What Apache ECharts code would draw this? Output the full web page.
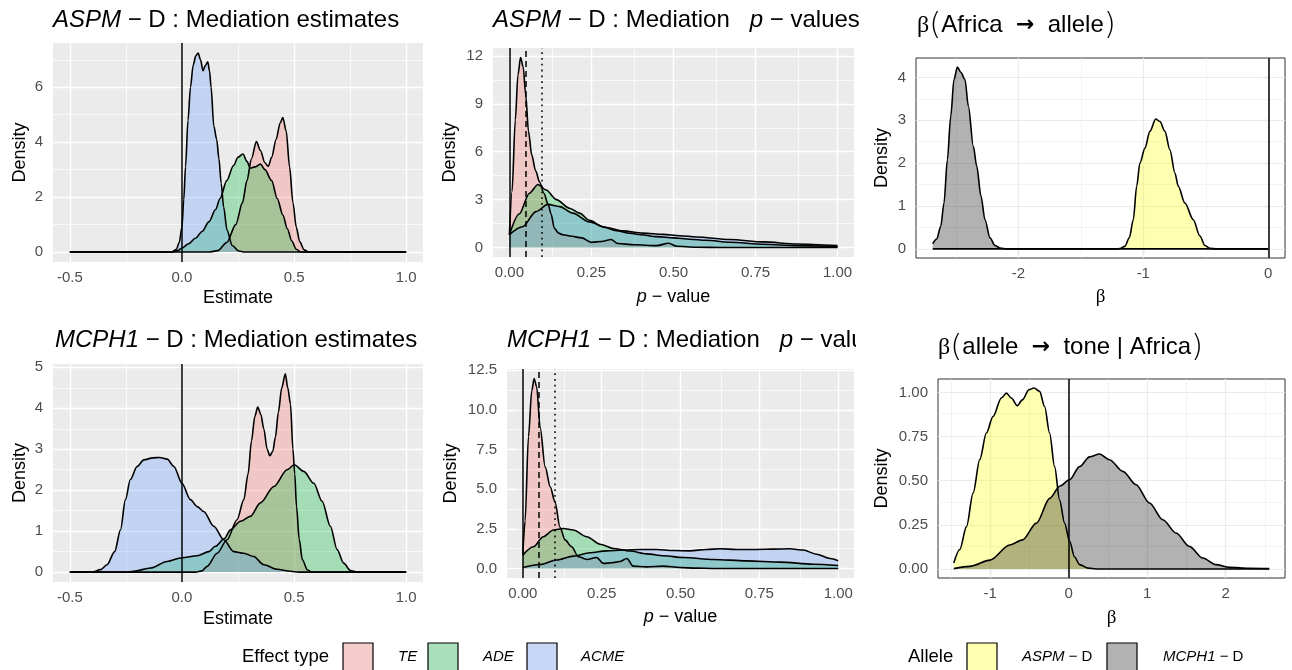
<!DOCTYPE html>
<html><head><meta charset="utf-8">
<script src="https://cdn.jsdelivr.net/npm/echarts@6/dist/echarts.min.js"></script>
<style>html,body{margin:0;padding:0;background:#fff}#c{width:1292px;height:670px}</style>
</head><body><div id="c"></div>
<script>
// ---------------- data ----------------
const effectTypes = ['TE', 'ADE', 'ACME'];
const effectColors = ['#F8766D', '#00BA38', '#619CFF'];
const alleleNames = ['ASPM', 'MCPH1'];
const alleleColors = ['#FFFF00', '#000000'];

const estXTicks = [-0.5, 0, 0.5, 1.0];
const estXMinor = [-0.25, 0.25, 0.75];
const pXTicks = [0, 0.25, 0.5, 0.75, 1.0];
const pXMinor = [0.125, 0.375, 0.625, 0.875];

const aspmEstYTicks = [0, 2, 4, 6];
const aspmEstYMinor = [1, 3, 5, 7];
const aspmPYTicks = [0, 3, 6, 9, 12];
const aspmPYMinor = [1.5, 4.5, 7.5, 10.5];
const africaXTicks = [-2, -1, 0];
const africaXMinor = [-2.5, -1.5, -0.5];
const africaYTicks = [0, 1, 2, 3, 4];
const africaYMinor = [0.5, 1.5, 2.5, 3.5];
const mcphEstYTicks = [0, 1, 2, 3, 4, 5];
const mcphEstYMinor = [0.5, 1.5, 2.5, 3.5, 4.5];
const mcphPYTicks = [0, 2.5, 5, 7.5, 10, 12.5];
const mcphPYMinor = [1.25, 3.75, 6.25, 8.75, 11.25];
const toneXTicks = [-1, 0, 1, 2];
const toneXMinor = [-1.5, -0.5, 0.5, 1.5, 2.5];
const toneYTicks = [0, 0.25, 0.5, 0.75, 1.0];
const toneYMinor = [0.125, 0.375, 0.625, 0.875];

// ASPM-D mediation estimates (density)
const aspmEstTE = [[-0.5,0],[0.12,0],[0.16,0.05],[0.2,0.35],[0.24,1.0],[0.27,1.8],[0.29,2.6],[0.31,3.4],[0.332,4.02],[0.35,3.7],[0.37,3.25],[0.385,3.12],[0.4,3.45],[0.42,4.1],[0.438,4.7],[0.45,4.9],[0.465,4.4],[0.48,3.1],[0.495,1.8],[0.51,0.9],[0.525,0.38],[0.545,0.08],[0.565,0],[1.0,0]];
const aspmEstADE = [[-0.5,0],[-0.05,0],[-0.02,0.05],[0.0,0.15],[0.03,0.3],[0.06,0.5],[0.09,0.75],[0.12,1.1],[0.15,1.55],[0.17,1.95],[0.2,2.6],[0.23,3.15],[0.25,3.45],[0.272,3.57],[0.29,3.3],[0.305,3.05],[0.325,3.1],[0.35,3.2],[0.37,3.0],[0.4,2.6],[0.425,1.95],[0.45,1.35],[0.47,0.85],[0.49,0.4],[0.51,0.1],[0.53,0],[1.0,0]];
const aspmEstACME = [[-0.5,0],[-0.045,0],[-0.025,0.1],[-0.012,0.35],[0,0.9],[0.008,1.9],[0.016,3.1],[0.027,4.8],[0.038,6.0],[0.05,6.8],[0.062,7.15],[0.072,7.25],[0.083,7.0],[0.094,6.6],[0.105,6.8],[0.115,6.93],[0.123,6.6],[0.13,6.0],[0.142,4.6],[0.155,4.1],[0.165,3.4],[0.175,2.5],[0.186,1.64],[0.201,0.8],[0.224,0.24],[0.253,0.04],[0.28,0],[1.0,0]];

// ASPM-D mediation p-values (density)
const aspmPTE = [[0,0.8],[0.008,3.5],[0.018,8.0],[0.026,10.8],[0.034,11.9],[0.042,11.3],[0.05,9.5],[0.058,7.3],[0.068,5.8],[0.08,4.8],[0.092,4.1],[0.105,3.4],[0.118,2.7],[0.127,2.1],[0.137,1.2],[0.15,0.9],[0.163,0.8],[0.19,0.7],[0.22,0.6],[0.25,0.32],[0.28,0.38],[0.31,0.5],[0.33,0.25],[0.38,0.17],[0.45,0.12],[0.485,0.27],[0.51,0.08],[0.57,0.02],[0.65,0],[1,0]];
const aspmPADE = [[0,0.8],[0.03,2.1],[0.061,3.4],[0.087,3.95],[0.112,3.6],[0.143,3.0],[0.183,2.46],[0.214,2.15],[0.244,1.7],[0.285,1.3],[0.326,1.05],[0.367,0.9],[0.4,0.8],[0.45,0.68],[0.5,0.6],[0.55,0.52],[0.6,0.45],[0.672,0.33],[0.774,0.2],[0.876,0.12],[1.0,0.06]];
const aspmPACME = [[0,0.8],[0.04,1.3],[0.081,2.25],[0.117,2.7],[0.153,2.56],[0.193,2.15],[0.244,1.6],[0.295,1.25],[0.346,1.04],[0.407,0.9],[0.468,0.82],[0.519,0.74],[0.57,0.66],[0.672,0.5],[0.774,0.35],[0.876,0.22],[1.0,0.12]];

// beta(Africa -> allele)
const africaASPM = [[-2.685,0],[-1.22,0],[-1.187,0.01],[-1.147,0.06],[-1.112,0.26],[-1.08,0.68],[-1.053,1.46],[-1.027,2.0],[-0.987,2.35],[-0.947,2.74],[-0.901,3.03],[-0.867,2.97],[-0.827,2.74],[-0.787,2.31],[-0.747,1.77],[-0.72,1.46],[-0.667,1.07],[-0.6,0.68],[-0.547,0.3],[-0.507,0.08],[-0.467,0.015],[-0.413,0],[0,0]];
const africaMCPH1 = [[-2.685,0.12],[-2.653,0.23],[-2.621,0.53],[-2.595,1.07],[-2.568,2.08],[-2.541,3.09],[-2.515,3.95],[-2.488,4.24],[-2.461,4.12],[-2.427,3.95],[-2.4,3.33],[-2.36,2.39],[-2.333,1.93],[-2.299,1.23],[-2.267,0.68],[-2.227,0.26],[-2.187,0.08],[-2.147,0.02],[-2.093,0],[0,0]];

// MCPH1-D mediation estimates (density)
const mcphEstTE = [[-0.5,0],[0.06,0],[0.09,0.03],[0.112,0.14],[0.157,0.46],[0.201,0.79],[0.246,1.28],[0.276,1.77],[0.295,2.4],[0.31,3.2],[0.325,3.8],[0.338,4.03],[0.352,3.85],[0.365,3.5],[0.38,3.0],[0.392,2.84],[0.405,2.95],[0.417,3.3],[0.43,3.9],[0.445,4.5],[0.461,4.84],[0.472,4.5],[0.484,4.1],[0.495,3.0],[0.503,2.4],[0.511,1.6],[0.523,0.8],[0.537,0.3],[0.56,0.05],[0.58,0],[1,0]];
const mcphEstADE = [[-0.5,0],[-0.25,0],[-0.215,0.02],[-0.14,0.1],[-0.066,0.26],[0,0.35],[0.068,0.4],[0.12,0.5],[0.149,0.63],[0.19,0.82],[0.216,1.03],[0.261,1.24],[0.305,1.36],[0.35,1.69],[0.41,2.09],[0.469,2.5],[0.501,2.62],[0.543,2.46],[0.588,2.17],[0.625,1.73],[0.662,1.12],[0.692,0.55],[0.721,0.22],[0.751,0.04],[0.781,0],[1,0]];
const mcphEstACME = [[-0.5,0],[-0.4,0],[-0.363,0.06],[-0.334,0.18],[-0.3,0.5],[-0.274,1.03],[-0.252,1.77],[-0.23,2.26],[-0.2,2.58],[-0.17,2.74],[-0.13,2.79],[-0.1,2.8],[-0.066,2.76],[-0.036,2.58],[0,2.17],[0.038,1.77],[0.068,1.6],[0.097,1.48],[0.142,1.12],[0.186,0.79],[0.231,0.5],[0.276,0.46],[0.32,0.38],[0.365,0.18],[0.424,0.07],[0.483,0.02],[0.52,0],[1,0]];

// MCPH1-D mediation p-values (density)
const mcphPTE = [[0,0.84],[0.0074,3.0],[0.018,8.3],[0.0285,11.2],[0.036,11.97],[0.044,11.45],[0.055,8.9],[0.071,6.4],[0.087,5.15],[0.102,4.2],[0.118,2.6],[0.134,1.8],[0.155,1.37],[0.176,0.74],[0.203,0.57],[0.234,0.69],[0.256,0.32],[0.282,0.36],[0.308,0.44],[0.33,0.63],[0.35,0.15],[0.393,0.1],[0.446,0.15],[0.498,0.06],[0.551,0.02],[0.6,0],[1,0]];
const mcphPADE = [[0,0.84],[0.034,1.37],[0.065,2.0],[0.097,2.42],[0.129,2.52],[0.16,2.42],[0.203,2.0],[0.245,1.53],[0.287,1.26],[0.34,1.1],[0.393,0.92],[0.446,0.8],[0.509,0.69],[0.604,0.57],[0.71,0.48],[0.815,0.4],[0.92,0.27],[1,0.19]];
const mcphPACME = [[0,0.06],[0.055,0.25],[0.108,0.53],[0.16,0.78],[0.213,0.99],[0.266,1.11],[0.319,1.16],[0.372,1.2],[0.424,1.2],[0.477,1.13],[0.53,1.11],[0.583,1.2],[0.625,1.24],[0.678,1.2],[0.741,1.2],[0.794,1.22],[0.847,1.24],[0.889,1.16],[0.931,0.9],[0.974,0.63],[1,0.48]];

// beta(allele -> tone | Africa)
const toneASPM = [[-1.462,0.034],[-1.386,0.11],[-1.3,0.24],[-1.216,0.43],[-1.131,0.62],[-1.047,0.77],[-0.962,0.864],[-0.856,0.968],[-0.792,0.996],[-0.729,0.968],[-0.653,0.925],[-0.589,0.958],[-0.504,1.015],[-0.441,1.025],[-0.369,1.006],[-0.305,0.92],[-0.242,0.77],[-0.178,0.58],[-0.114,0.39],[-0.051,0.26],[0.013,0.157],[0.076,0.068],[0.14,0.025],[0.25,0.005],[0.35,0],[2.555,0]];
const toneMCPH1 = [[-1.462,0.002],[-1.258,0.015],[-1.0,0.05],[-0.75,0.136],[-0.585,0.165],[-0.41,0.26],[-0.24,0.4],[-0.11,0.47],[0.013,0.505],[0.14,0.58],[0.267,0.635],[0.394,0.651],[0.521,0.619],[0.691,0.553],[0.86,0.477],[1.03,0.374],[1.2,0.279],[1.369,0.204],[1.538,0.128],[1.708,0.062],[1.877,0.025],[2.047,0.009],[2.3,0.004],[2.555,0.002]];

// ---------------- chart ----------------
const FONT = '"Liberation Sans", Arial, Helvetica, sans-serif';
const SERIF = '"Liberation Serif", "DejaVu Serif", serif';

const panels = [
  { grid:{left:53, top:43, width:370, height:219}, bw:false, x:[-0.575,1.075], y:[-0.3625,7.6125],
    xTicks:estXTicks, xMinor:estXMinor, yTicks:aspmEstYTicks, yMinor:aspmEstYMinor, xDec:1, yDec:0,
    xName:'Estimate', xNameGap:27, yNameGap:24, curves:[aspmEstTE,aspmEstADE,aspmEstACME], colors:effectColors,
    vlines:[{x:0,type:'solid'}] },
  { grid:{left:493, top:48, width:361, height:209}, bw:false, x:[-0.05,1.05], y:[-0.595,12.495],
    xTicks:pXTicks, xMinor:pXMinor, yTicks:aspmPYTicks, yMinor:aspmPYMinor, xDec:2, yDec:0,
    xName:'{i|p}{n| − value}', xNameGap:31, yNameGap:34, curves:[aspmPTE,aspmPADE,aspmPACME], colors:effectColors,
    vlines:[{x:0,type:'solid'},{x:0.05,type:[6,4]},{x:0.1,type:[1.8,4]}] },
  { grid:{left:916, top:58, width:369, height:200}, bw:true, x:[-2.819,0.134], y:[-0.212,4.452],
    xTicks:africaXTicks, xMinor:africaXMinor, yTicks:africaYTicks, yMinor:africaYMinor, xDec:0, yDec:0,
    xName:'{b|β}', xNameGap:30, yNameGap:25, curves:[africaASPM,africaMCPH1], colors:alleleColors,
    vlines:[{x:0,type:'solid'}] },
  { grid:{left:53, top:364, width:370, height:218}, bw:false, x:[-0.575,1.075], y:[-0.242,5.082],
    xTicks:estXTicks, xMinor:estXMinor, yTicks:mcphEstYTicks, yMinor:mcphEstYMinor, xDec:1, yDec:0,
    xName:'Estimate', xNameGap:28, yNameGap:24, curves:[mcphEstTE,mcphEstADE,mcphEstACME], colors:effectColors,
    vlines:[{x:0,type:'solid'}] },
  { grid:{left:507, top:369, width:347, height:209}, bw:false, x:[-0.05,1.05], y:[-0.6,12.57],
    xTicks:pXTicks, xMinor:pXMinor, yTicks:mcphPYTicks, yMinor:mcphPYMinor, xDec:2, yDec:1,
    xName:'{i|p}{n| − value}', xNameGap:30, yNameGap:47, curves:[mcphPTE,mcphPADE,mcphPACME], colors:effectColors,
    vlines:[{x:0,type:'solid'},{x:0.05,type:[6,4]},{x:0.1,type:[1.8,4]}] },
  { grid:{left:938, top:379, width:347, height:199}, bw:true, x:[-1.663,2.756], y:[-0.051,1.076],
    xTicks:toneXTicks, xMinor:toneXMinor, yTicks:toneYTicks, yMinor:toneYMinor, xDec:0, yDec:2,
    xName:'{b|β}', xNameGap:31, yNameGap:47, curves:[toneASPM,toneMCPH1], colors:alleleColors,
    vlines:[{x:0,type:'solid'}] }
];

const grids = [], xAxes = [], yAxes = [], series = [];
const nameRich = {
  i:{fontStyle:'italic', fontSize:18, color:'#000', fontFamily:FONT},
  n:{fontSize:18, color:'#000', fontFamily:FONT},
  b:{fontSize:19, color:'#000', fontFamily:SERIF}
};
panels.forEach((p, i) => {
  grids.push(Object.assign({
    show:true, containLabel:false, outerBoundsMode:'none',
    backgroundColor: p.bw ? '#ffffff' : '#ebebeb',
    borderColor: p.bw ? '#333333' : 'transparent', borderWidth: p.bw ? 1 : 0
  }, p.grid));
  const common = (ticks, dec) => ({
    axisLine:{show:false},
    axisTick:{show:true, customValues:ticks, length:5, lineStyle:{color:'#333', width:1.1}},
    axisLabel:{customValues:ticks, formatter:v => Number(v).toFixed(dec), color:'#4d4d4d', fontSize:15, fontFamily:FONT},
    splitLine:{show:false}, minorTick:{show:false}, minorSplitLine:{show:false}
  });
  const xa = Object.assign({type:'value', gridIndex:i, min:p.x[0], max:p.x[1],
    name:p.xName, nameLocation:'middle', nameGap:p.xNameGap, nameMoveOverlap:false,
    nameTextStyle:{fontSize:18, color:'#000', fontFamily:FONT, rich:nameRich}}, common(p.xTicks, p.xDec));
  xa.axisLabel.margin = 8;
  const ya = Object.assign({type:'value', gridIndex:i, min:p.y[0], max:p.y[1],
    name:'Density', nameLocation:'middle', nameGap:p.yNameGap, nameMoveOverlap:false,
    nameTextStyle:{fontSize:18, color:'#000', fontFamily:FONT}}, common(p.yTicks, p.yDec));
  ya.axisLabel.margin = 10;
  xAxes.push(xa); yAxes.push(ya);

  // grid lines (major + minor), drawn beneath the densities
  const majorC = p.bw ? '#ebebeb' : '#ffffff';
  const majW = p.bw ? 1.2 : 1.4, minW = p.bw ? 0.6 : 0.7;
  const gl = [];
  p.xMinor.forEach(v => gl.push({xAxis:v, lineStyle:{width:minW, color:majorC, type:'solid'}}));
  p.yMinor.forEach(v => gl.push({yAxis:v, lineStyle:{width:minW, color:majorC, type:'solid'}}));
  p.xTicks.forEach(v => gl.push({xAxis:v, lineStyle:{width:majW, color:majorC, type:'solid'}}));
  p.yTicks.forEach(v => gl.push({yAxis:v, lineStyle:{width:majW, color:majorC, type:'solid'}}));
  series.push({type:'line', xAxisIndex:i, yAxisIndex:i, data:[[p.x[0], p.y[0]]], symbol:'none', silent:true,
    lineStyle:{opacity:0}, z:1,
    markLine:{silent:true, symbol:['none','none'], label:{show:false}, z:1, animation:false,
      emphasis:{disabled:true}, data:gl}});

  p.curves.forEach((c, k) => {
    series.push({type:'line', xAxisIndex:i, yAxisIndex:i, data:c, smooth:0.3, smoothMonotone:'x',
      symbol:'none', silent:true, z:2,
      lineStyle:{color:'#000', width:1.6},
      areaStyle:{color:p.colors[k], opacity:0.3}});
  });

  series.push({type:'line', xAxisIndex:i, yAxisIndex:i, data:[[p.x[0], p.y[0]]], symbol:'none', silent:true,
    lineStyle:{opacity:0}, z:10,
    markLine:{silent:true, symbol:['none','none'], label:{show:false}, z:10, animation:false,
      emphasis:{disabled:true},
      data:p.vlines.map(v => ({xAxis:v.x, lineStyle:{color:'#000', width:1.5, type:v.type}}))}});
});

const titleRich = {
  i:{fontStyle:'italic', fontSize:24, color:'#000', fontFamily:FONT},
  n:{fontSize:24, color:'#000', fontFamily:FONT},
  b:{fontSize:24, color:'#000', fontFamily:SERIF},
  a:{fontSize:22, color:'#000', fontFamily:'"DejaVu Sans", sans-serif', fontWeight:'bold'},
  p:{fontSize:31, color:'#000', fontFamily:'"DejaVu Sans", sans-serif', fontWeight:'lighter'}
};
const mkTitle = (text, left, top) => ({text, left, top, padding:0, itemGap:0,
  textStyle:{rich:titleRich, fontSize:24, color:'#000', fontWeight:'normal', fontFamily:FONT}});
const titles = [
  mkTitle('{i|ASPM}{n| − D : Mediation estimates}', 53, 8),
  mkTitle('{i|ASPM}{n| − D : Mediation   }{i|p}{n| − values}', 493, 8),
  mkTitle('{b|β}{p|(}{n|Africa  }{a|→}{n|  allele}{p|)}', 917, 10),
  mkTitle('{i|MCPH1}{n| − D : Mediation estimates}', 55, 328),
  mkTitle('{i|MCPH1}{n| − D : Mediation   }{i|p}{n| − values}', 507, 328),
  mkTitle('{b|β}{p|(}{n|allele  }{a|→}{n|  tone | Africa}{p|)}', 938, 332)
];

// legends
const hexToRgba = (h, a) => {
  const n = parseInt(h.slice(1), 16);
  return `rgba(${(n>>16)&255},${(n>>8)&255},${n&255},${a})`;
};
const graphics = [];
const legendY = 643, legendCy = 657;
graphics.push({type:'text', x:242, y:legendCy, style:{text:'Effect type', fontSize:18.5, fontFamily:FONT, fill:'#000', verticalAlign:'middle'}});
const effBoxX = [343, 428, 527], effLabX = [398, 483, 581];
effectTypes.forEach((t, k) => {
  graphics.push({type:'rect', shape:{x:effBoxX[k], y:legendY, width:30, height:40}, style:{fill:'#f2f2f2'}});
  graphics.push({type:'rect', shape:{x:effBoxX[k], y:legendY, width:30, height:40}, style:{fill:hexToRgba(effectColors[k],0.3), stroke:'#000', lineWidth:1.2}});
  graphics.push({type:'text', x:effLabX[k], y:legendCy, style:{text:t, fontSize:15, fontStyle:'italic', fontFamily:FONT, fill:'#000', verticalAlign:'middle'}});
});
graphics.push({type:'text', x:908, y:legendCy, style:{text:'Allele', fontSize:18.5, fontFamily:FONT, fill:'#000', verticalAlign:'middle'}});
const alBoxX = [967, 1107], alLabX = [1022, 1163];
alleleNames.forEach((t, k) => {
  graphics.push({type:'rect', shape:{x:alBoxX[k], y:legendY, width:30, height:40}, style:{fill:hexToRgba(alleleColors[k],0.3), stroke:'#000', lineWidth:1.2}});
  graphics.push({type:'text', x:alLabX[k], y:legendCy, style:{text:'{i|' + t + '}{n| − D}', fontSize:15, fontFamily:FONT, fill:'#000', verticalAlign:'middle',
    rich:{i:{fontStyle:'italic', fontSize:15, fontFamily:FONT}, n:{fontSize:15, fontFamily:FONT}}}});
});
// right column region hides the overflowing end of the lower middle title
graphics.push({type:'rect', shape:{x:856, y:322, width:79, height:40}, style:{fill:'#ffffff'}, z:100});

const chart = echarts.init(document.getElementById('c'), null, {renderer:'canvas'});
chart.setOption({
  animation:false,
  backgroundColor:'#ffffff',
  textStyle:{fontFamily:FONT},
  title:titles,
  grid:grids, xAxis:xAxes, yAxis:yAxes, series:series,
  graphic:{elements:graphics}
});
</script></body></html>
